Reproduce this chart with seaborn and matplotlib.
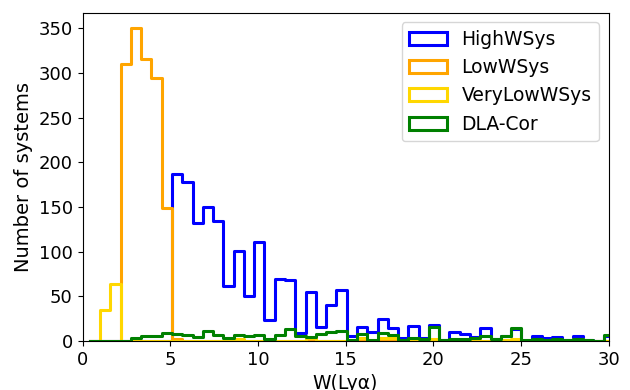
import numpy as np
import pandas as pd
import matplotlib
matplotlib.use("Agg")
import matplotlib.pyplot as plt
from matplotlib.patches import Patch
import seaborn as sns

# Histogram binning (50 bins, shared by all series)
BIN_START = 1.0
BIN_WIDTH = 0.586
N_BINS = 50

high_w = [0, 0, 0, 0, 0, 0, 0, 187, 178, 132,
          150, 134, 62, 101, 50, 111, 23, 69, 68, 9,
          55, 15, 40, 57, 6, 16, 10, 25, 14, 3,
          17, 3, 18, 1, 10, 8, 4, 14, 2, 5,
          13, 0, 5, 3, 4, 1, 5, 1, 0, 5]
low_w = [0, 0, 310, 350, 316, 295, 149, 2, 0, 0,
         0, 0, 0, 0, 0, 0, 1, 0, 0, 0,
         0, 0, 0, 0, 0, 0, 0, 0, 0, 0,
         0, 0, 0, 0, 0, 0, 0, 0, 0, 0,
         0, 0, 0, 0, 0, 0, 0, 0, 0, 0]
very_low_w = [35, 64, 0, 0, 0, 0, 0, 0, 0, 0,
              0, 0, 0, 2, 0, 0, 0, 0, 0, 0,
              3, 0, 0, 0, 0, 3, 0, 3, 3, 0,
              1, 0, 2, 0, 0, 0, 1, 0, 0, 1,
              2, 0, 0, 0, 1, 0, 2, 0, 0, 0]
dla_cor = [0, 0, 0, 3, 5, 5, 9, 8, 7, 4,
           11, 7, 3, 7, 5, 7, 2, 7, 13, 6,
           4, 8, 10, 11, 1, 8, 1, 9, 7, 1,
           3, 2, 15, 1, 2, 2, 3, 5, 2, 6,
           14, 1, 2, 1, 2, 1, 2, 1, 0, 7]

series_names = ["HighWSys", "LowWSys", "VeryLowWSys", "DLA-Cor"]
series_counts = [high_w, low_w, very_low_w, dla_cor]
series_colors = ["blue", "orange", "gold", "green"]

x_label = "W(Ly\u03b1)"
y_label = "Number of systems"

# one leading empty bin so each step outline starts at the baseline
edges = BIN_START + BIN_WIDTH * np.arange(-1, N_BINS + 1)
centers = 0.5 * (edges[:-1] + edges[1:])

plt.rcParams["font.family"] = ["DejaVu Sans"]
fig, ax = plt.subplots(figsize=(6.3, 3.9), dpi=100)
fig.subplots_adjust(left=0.131, right=0.966, top=0.967, bottom=0.126)

for name, counts, color in zip(series_names, series_counts, series_colors):
    w = np.concatenate([[0], counts]).astype(float)
    df = pd.DataFrame({"W": centers, "n": w})
    sns.histplot(data=df, x="W", weights="n", bins=[float(e) for e in edges],
                 element="step", fill=False, color=color, linewidth=2.2, ax=ax)

ax.set_xlim(0, 30)
ax.set_ylim(0, 367.5)
ax.set_xlabel(x_label, fontsize=13.5)
ax.set_ylabel(y_label, fontsize=14)
ax.tick_params(labelsize=13)

handles = [Patch(facecolor="none", edgecolor=c, linewidth=2.2) for c in series_colors]
ax.legend(handles, series_names, loc="upper right", fontsize=13.5)

fig.savefig("out.png", dpi=100)
